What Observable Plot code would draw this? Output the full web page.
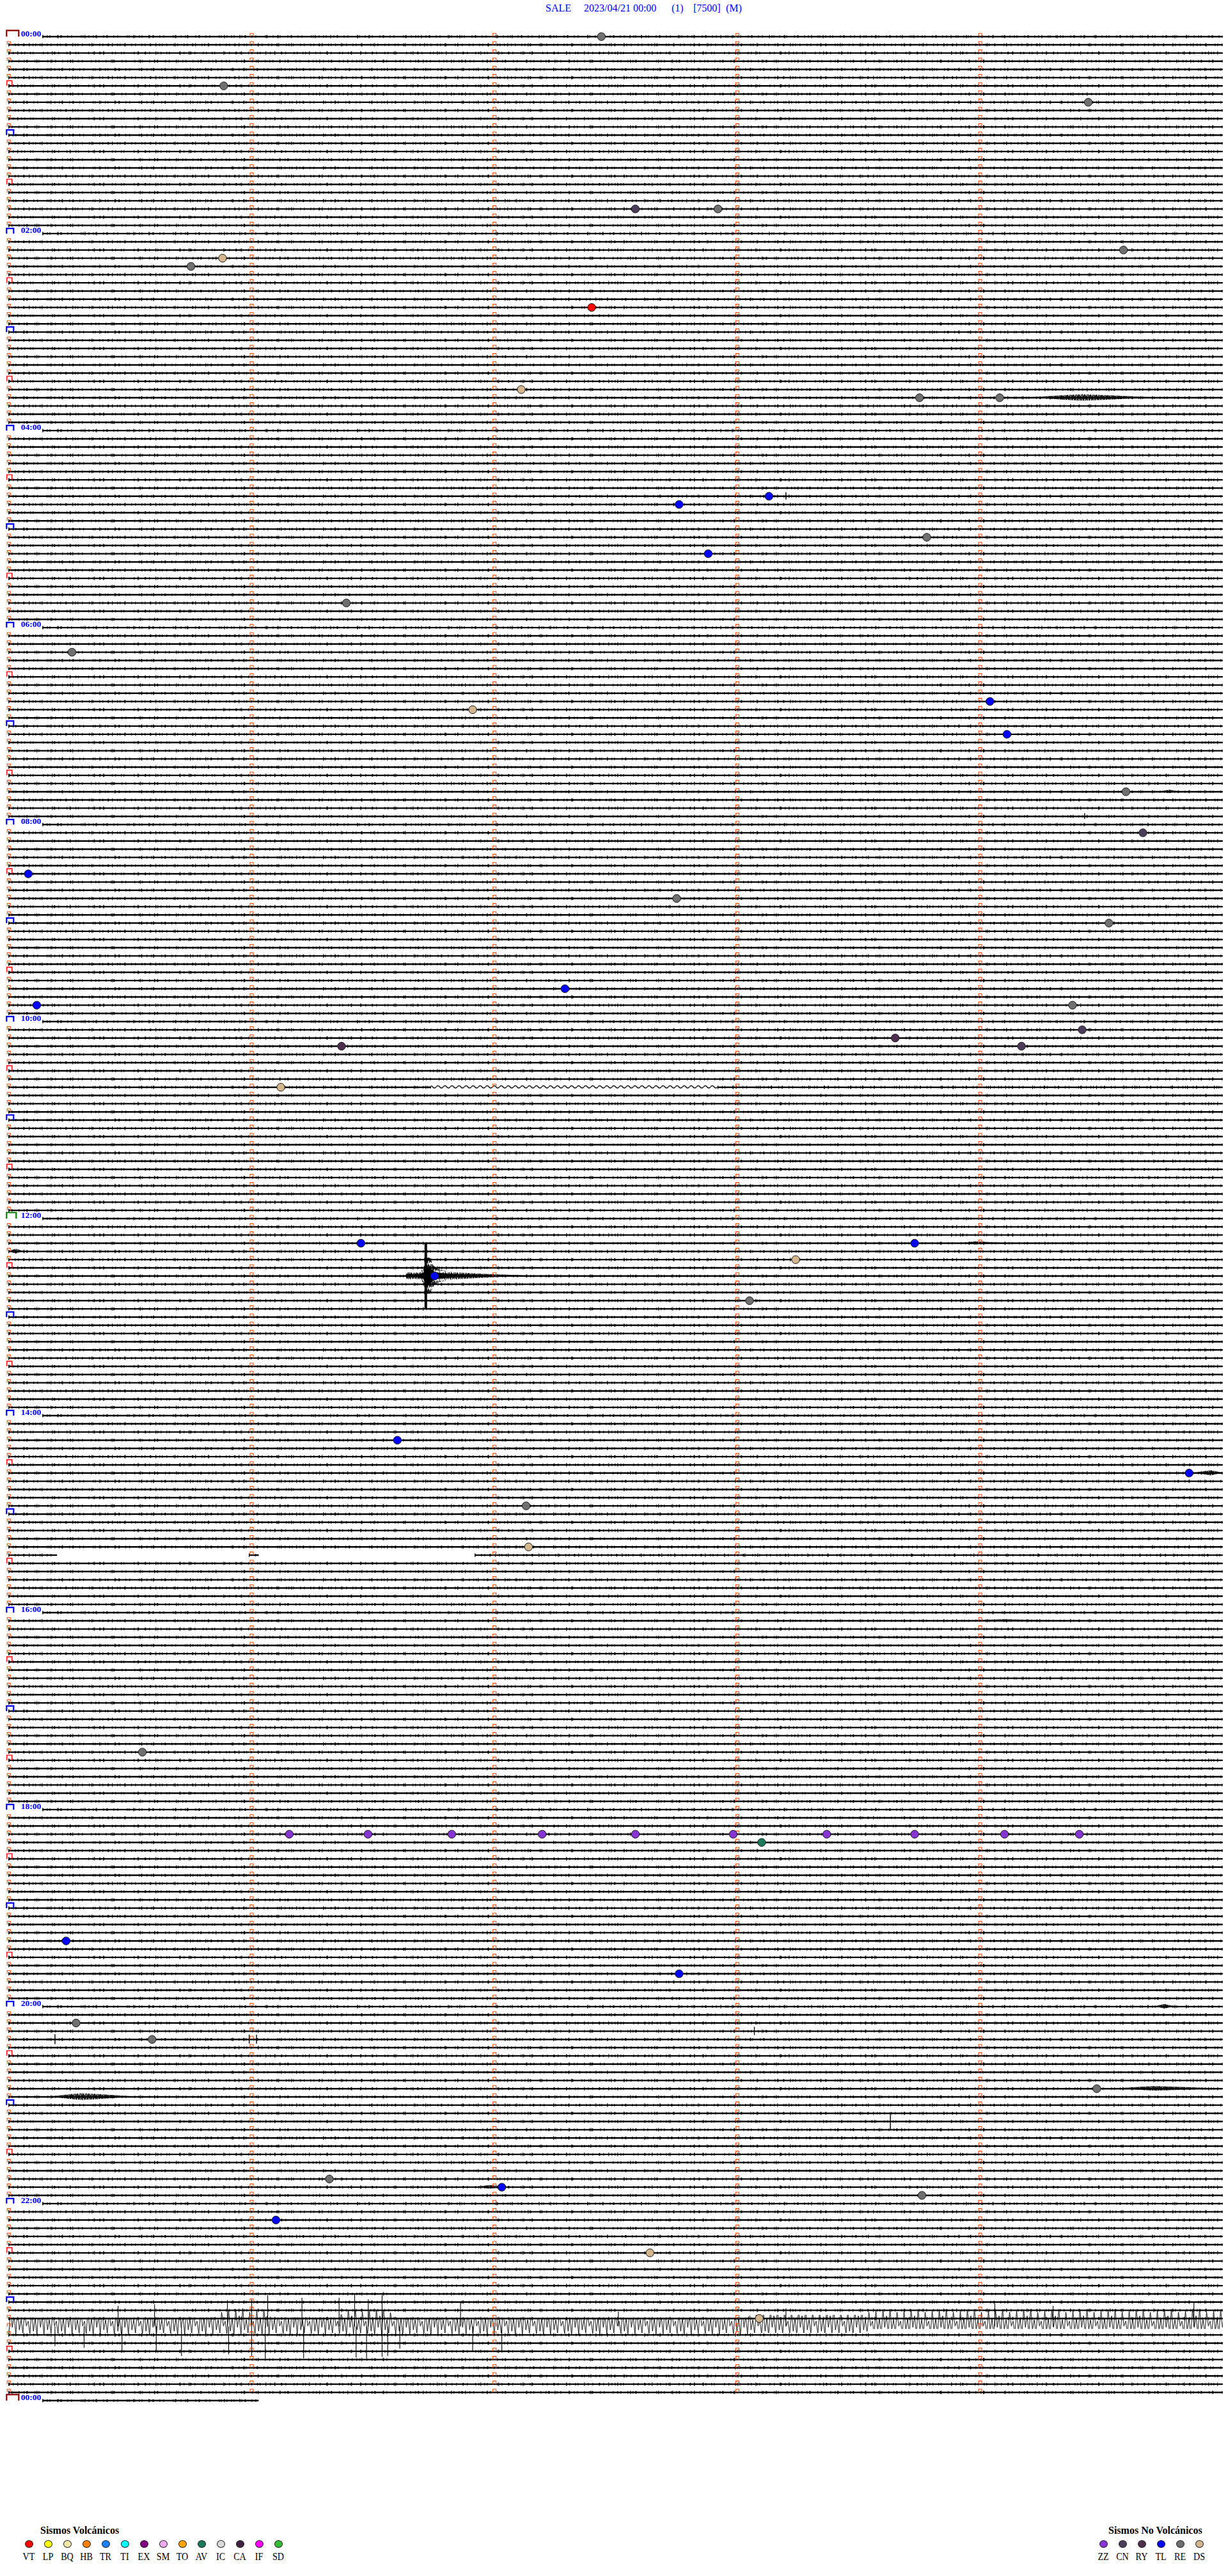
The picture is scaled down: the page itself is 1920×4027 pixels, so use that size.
<!DOCTYPE html>
<html>
<head>
<meta charset="utf-8">
<script src="https://cdn.jsdelivr.net/npm/d3@7"></script>
<script src="https://cdn.jsdelivr.net/npm/@observablehq/plot@0.6"></script>
<style>
  html, body { margin: 0; padding: 0; background: #fff; }
  #page { position: relative; width: 1920px; height: 4027px; overflow: hidden; background: #fff; }
  #page > svg { position: absolute; left: 0; top: 0; }
  .title span { position: absolute; top: 3px; font: 16px "Liberation Serif", "Times New Roman", serif; color: #0000ff; white-space: pre; line-height: 20px; }
  .legend-title { position: absolute; font: bold 16px "Liberation Serif", "Times New Roman", serif; color: #000; line-height: 18px; white-space: nowrap; }
  .legend-dot { position: absolute; width: 13px; height: 12px; border-radius: 50%; border: 1px solid #222; box-sizing: border-box; }
  .legend-label { position: absolute; font: 17px "Liberation Serif", "Times New Roman", serif; color: #000; line-height: 18px; white-space: nowrap; transform: translateX(-50%) scaleX(0.83); }
</style>
</head>
<body>
<div id="page"></div>
<script>
// ---------------- DATA ----------------
const titleParts = ["SALE", "2023/04/21 00:00", "(1)", "[7500]", "(M)"];
const minutesPerLine = 5;
const linesPerHour = 12;
const lineCount = 288;            // 24 h x 12 lines of 5 minutes
const lastLineEnd = 1.03;         // minutes drawn on the closing 00:00 line
const hourLabels = ["00:00","02:00","04:00","06:00","08:00","10:00","12:00","14:00","16:00","18:00","20:00","22:00","00:00"];
const labelGap = 0.14;            // trace starts after the hour label (minutes)

// missing pieces of trace: [line, fromMinute, toMinute]
const gaps = [[128, 1.74, 2.92], [185, 0.20, 0.99], [185, 1.03, 1.92], [279, 0, 5]];

// classified events: [line, minute, type]
const events = [
  [0, 2.44, "RE"], [6, 0.885, "RE"], [8, 4.445, "RE"],
  [21, 2.58, "CN"], [21, 2.92, "RE"], [26, 4.59, "RE"],
  [27, 0.88, "DS"], [28, 0.75, "RE"], [33, 2.40, "VT"],
  [43, 2.11, "DS"], [44, 3.75, "RE"], [44, 4.08, "RE"],
  [56, 3.13, "TL"], [57, 2.76, "TL"], [61, 3.78, "RE"], [63, 2.88, "TL"],
  [69, 1.39, "RE"], [75, 0.26, "RE"], [81, 4.04, "TL"], [82, 1.91, "DS"],
  [85, 4.11, "TL"], [92, 4.60, "RE"], [97, 4.67, "CN"], [102, 0.08, "TL"],
  [105, 2.75, "RE"], [108, 4.53, "RE"], [116, 2.29, "TL"], [118, 0.115, "TL"],
  [118, 4.38, "RE"], [121, 4.42, "CN"], [122, 3.65, "RY"], [123, 1.37, "RY"],
  [123, 4.17, "CN"], [128, 1.12, "DS"], [147, 1.45, "TL"], [147, 3.73, "TL"],
  [149, 3.24, "DS"], [151, 1.753, "TL"], [154, 3.05, "RE"], [171, 1.60, "TL"],
  [175, 4.86, "TL"], [179, 2.13, "RE"], [184, 2.14, "DS"], [209, 0.55, "RE"],
  [219, 1.155, "ZZ"], [219, 1.479, "ZZ"], [219, 1.824, "ZZ"], [219, 2.196, "ZZ"], [219, 2.58, "ZZ"],
  [219, 2.983, "ZZ"], [219, 3.368, "ZZ"], [219, 3.73, "ZZ"], [219, 4.10, "ZZ"], [219, 4.408, "ZZ"],
  [220, 3.10, "AV"], [232, 0.236, "TL"], [236, 2.76, "TL"], [242, 0.277, "RE"],
  [244, 0.59, "RE"], [250, 4.48, "RE"], [261, 1.32, "RE"], [262, 2.03, "TL"],
  [263, 3.76, "RE"], [266, 1.10, "TL"], [270, 2.64, "DS"], [278, 3.09, "DS"]
];

const volcanicTypes  = ["VT","LP","BQ","HB","TR","TI","EX","SM","TO","AV","IC","CA","IF","SD"];
const volcanicColors = ["#ff0000","#ffff00","#f3e6a6","#ff8000","#1e80ff","#00ffff","#800080","#eeaaee","#ffa500","#1b7a5c","#d9d9d9","#3e2440","#ff00ff","#35bb35"];
const nonVolcanicTypes  = ["ZZ","CN","RY","TL","RE","DS"];
const nonVolcanicColors = ["#8634d2","#4c3c5c","#4f2f4f","#0000ff","#6f6f6f","#d3b68e"];

// short bursts: [line, startMin, peakMin, endMin, half-amplitude in lines]
const bursts = [
  [44, 4.20, 4.42, 4.72, 0.42], [147, 3.93, 3.98, 4.10, 0.2], [175, 4.88, 4.95, 5.0, 0.32],
  [251, 0.17, 0.30, 0.52, 0.45], [250, 4.55, 4.72, 5.0, 0.28], [262, 1.92, 1.98, 2.07, 0.22],
  [240, 4.72, 4.76, 4.80, 0.28], [148, 0.0, 0.03, 0.06, 0.3], [193, 3.95, 4.10, 4.30, 0.16],
  [92, 4.74, 4.78, 4.82, 0.22]
];
// isolated spikes: [line, minute, half-height in lines]
const spikes = [[254, 3.63, 1.1], [244, 0.19, 0.6], [244, 0.99, 0.55], [244, 1.02, 0.55], [243, 3.07, 0.5], [56, 3.20, 0.45], [95, 4.43, 0.35]];

// the large earthquake on line 151
const quakeLine = 151;
const quakeEnvelope = [[1.635, 0], [1.640, 0.5], [1.672, 0.35], [1.692, 0.5], [1.708, 0.8], [1.716, 2.2], [1.735, 2.2],
  [1.751, 1.2], [1.771, 0.8], [1.808, 0.55], [1.861, 0.4], [1.927, 0.28], [1.993, 0.18], [2.072, 0.1], [2.15, 0]];
const quakeSpike = {minute: 1.717, top: 147, bottom: 155};

// tremor episode around 23:10-23:20: [minute, topLine, bottomLine]
const tremorEnvelope = [[0.00, 278.0, 280.1], [0.85, 277.9, 280.2], [0.88, 276.6, 281.8], [1.05, 276.6, 281.8],
  [1.08, 277.9, 280.2], [1.35, 277.9, 280.2], [1.40, 277.0, 281.5], [1.56, 277.0, 281.5], [1.60, 278.0, 280.1],
  [3.03, 278.0, 280.1], [3.06, 277.6, 279.8], [3.52, 277.6, 279.8], [3.56, 276.9, 279.3], [5.00, 276.9, 279.3]];
const tremorCenter = 279;
const tremorSpikes = [[0.45, 276.5], [0.60, 276.3], [0.90, 275.8], [1.00, 275.7], [1.066, 275.2], [1.207, 275.5],
  [1.36, 275.5], [1.424, 275.1], [1.48, 275.7], [1.537, 275.2], [1.86, 276.0], [2.51, 277.2], [4.06, 276.2],
  [4.88, 276.1], [3.2, 276.8], [4.3, 276.5],
  [0.19, 281.4], [0.31, 281.6], [0.466, 282.2], [0.607, 282.1], [0.711, 282.6], [0.905, 282.4], [1.0, 282.6],
  [1.056, 282.9], [1.214, 282.9], [1.43, 282.8], [1.473, 282.9], [1.537, 282.7], [1.56, 282.6], [1.61, 281.7],
  [1.91, 282.1], [2.03, 282.0]];

// slow oscillation on line 128: [line, fromMinute, toMinute, half-width in lines]
const waveSegment = [128, 1.74, 2.92, 0.3];

// ---------------- LAYOUT / STYLE ----------------
const yRange = [56.7, 3752.3];
const xRange = [13.3, 1911.8];
const yPx = v => yRange[0] + v * (yRange[1] - yRange[0]) / lineCount;
const step = (yRange[1] - yRange[0]) / lineCount;

// ---------------- DERIVED TABLES ----------------
const segments = [];
for (let i = 0; i <= lineCount; i++) {
  let start = (i % (2 * linesPerHour) === 0) ? labelGap : 0;
  let end = i === lineCount ? lastLineEnd : minutesPerLine;
  const g = gaps.filter(d => d[0] === i).sort((a, b) => a[1] - b[1]);
  let cur = start;
  for (const [, a, b] of g) {
    if (a > cur) segments.push({line: i, x1: cur, x2: a});
    cur = Math.max(cur, b);
  }
  if (end > cur) segments.push({line: i, x1: cur, x2: end});
}
const tickGroups = [0, 1, 2, 3].map(k => segments.filter(s => s.line % 4 === k));

const minuteMarks = [];
const halfHourMarks = [];
const hourMarks = [];
for (let i = 0; i < lineCount; i++) {
  for (let m = 1; m < minutesPerLine; m++) minuteMarks.push({line: i, minute: m});
  if (i % 6 !== 0) minuteMarks.push({line: i, minute: 0});
  else if (i % linesPerHour === 6) halfHourMarks.push({line: i});
  else if (i !== 0 && i !== lineCount / 2) hourMarks.push({line: i});
}
const dayMarks = [{line: 0}, {line: lineCount}];
const noonMarks = [{line: lineCount / 2}];
const labels = hourLabels.map((label, k) => ({label, line: k * 2 * linesPerHour}));

const eventRows = events.map(([line, minute, type]) => ({line, minute, type}));
const burstRows = bursts.flatMap(([line, m0, mp, m1, a], id) =>
  [[m0, 0], [mp, a], [m1, 0]].map(([minute, amp]) => ({id, line, minute, amp})));
const spikeRows = spikes.map(([line, minute, h]) => ({line, minute, h}));
const quakeRows = quakeEnvelope.map(([minute, amp]) => ({minute, amp}));
const tremorRows = tremorEnvelope.map(([minute, top, bottom]) => ({minute, top, bottom}));
const tremorSpikeRows = tremorSpikes.map(([minute, tip]) => ({minute, tip}));
const waveRows = [waveSegment[1], waveSegment[2]].map(minute => ({minute}));

const bracket = (w, h) => ({draw(ctx) { ctx.moveTo(-w / 2, 0); ctx.lineTo(-w / 2, -h); ctx.lineTo(w / 2, -h); ctx.lineTo(w / 2, 0); }});
const dashes = ["1,6,1,3,1,11,1,4,2,9,1,5,1,14,1,2,1,8", "1,9,1,4,1,7,2,13,1,3,1,6,1,10,1,5",
                "2,5,1,12,1,4,1,8,1,3,1,15,1,6,1,9", "1,4,1,10,1,7,1,3,2,11,1,5,1,13,1,6"];
const sparse = ["1,23,1,41,1,17,1,57", "1,31,1,19,1,47,1,29", "1,13,1,53,1,27,1,37", "1,43,1,21,1,33,1,61"];

// ---------------- CHART ----------------
const chart = Plot.plot({
  width: 1920,
  height: 3790,
  margin: 0,
  x: {domain: [0, minutesPerLine], range: xRange, axis: null},
  y: {domain: [0, lineCount], range: yRange, axis: null},
  color: {domain: [...volcanicTypes, ...nonVolcanicTypes], range: [...volcanicColors, ...nonVolcanicColors]},
  marks: [
    Plot.areaY(tremorRows, {x: "minute", y1: "top", y2: "bottom", fill: "url(#zig)", curve: "linear"}),
    Plot.areaY(waveRows, {x: "minute", y1: () => waveSegment[0] - waveSegment[3], y2: () => waveSegment[0] + waveSegment[3], fill: "url(#wave)"}),
    Plot.ruleY(segments, {y: "line", x1: "x1", x2: "x2", stroke: "#000", strokeWidth: 2.4}),
    ...tickGroups.map((g, k) => Plot.ruleY(g, {y: "line", x1: "x1", x2: "x2", stroke: "#000", strokeWidth: 4.2, strokeDasharray: dashes[k]})),
    ...tickGroups.map((g, k) => Plot.ruleY(g, {y: "line", x1: "x1", x2: "x2", stroke: "#000", strokeWidth: 5.6, strokeDasharray: sparse[k]})),
    Plot.areaY(quakeRows, {x: "minute", y1: d => quakeLine - d.amp, y2: d => quakeLine + d.amp, fill: "url(#spiky)"}),
    Plot.areaY(quakeRows, {x: "minute", y1: d => quakeLine - d.amp * 0.45, y2: d => quakeLine + d.amp * 0.45, fill: "#000"}),
    Plot.ruleX([quakeSpike], {x: "minute", y1: "top", y2: "bottom", stroke: "#000", strokeWidth: 4}),
    Plot.areaY(burstRows, {x: "minute", y1: d => d.line - d.amp, y2: d => d.line + d.amp, z: "id", fill: "url(#spiky)"}),
    Plot.ruleX(spikeRows, {x: "minute", y1: d => d.line - d.h, y2: d => d.line + d.h, stroke: "#000", strokeWidth: 1.4}),
    Plot.ruleX(tremorSpikeRows, {x: "minute", y1: () => tremorCenter, y2: "tip", stroke: "#000", strokeWidth: 1.1}),
    Plot.dot(minuteMarks, {x: "minute", y: "line", symbol: bracket(5, 5), r: 3, fill: "none", stroke: "#ff4a00", strokeWidth: 1.1}),
    Plot.dot(halfHourMarks, {x: 0, y: "line", dx: 1, symbol: bracket(8, 8), r: 4, fill: "none", stroke: "#ff0000", strokeWidth: 1.4}),
    Plot.dot(hourMarks, {x: 0, y: "line", dx: 2, symbol: bracket(11, 8), r: 4, fill: "none", stroke: "#0000ff", strokeWidth: 2.2}),
    Plot.dot(dayMarks, {x: 0, y: "line", dx: 6, symbol: bracket(19, 9.5), r: 5, fill: "none", stroke: "#8b0000", strokeWidth: 2.2}),
    Plot.dot(noonMarks, {x: 0, y: "line", dx: 4, symbol: bracket(15, 9.5), r: 5, fill: "none", stroke: "#008000", strokeWidth: 2.2}),
    Plot.text(labels, {x: 0, y: "line", text: "label", dx: 19, dy: -5, textAnchor: "start", lineAnchor: "middle",
      fill: "#0000ff", fontSize: 13.5, fontWeight: "bold", fontFamily: "Liberation Serif, Times New Roman, serif"}),
    Plot.dot(eventRows, {x: "minute", y: "line", fill: "type", r: 6.2, stroke: "#1a1a1a", strokeWidth: 1})
  ]
});

const wy = yPx(waveSegment[0]);
d3.select(chart).insert("defs", ":first-child").html(`
  <pattern id="zig" patternUnits="userSpaceOnUse" x="0" y="${yPx(276)}" width="44" height="200">
    <path d="M0,30 L2.75,50 L5.5,14 L8.25,46 L11,26 L13.75,52 L16.5,12 L19.25,40 L22,22 L24.75,51 L27.5,10 L30.25,44 L33,28 L35.75,49 L38.5,16 L41.25,38 L44,30"
      fill="none" stroke="#000" stroke-width="0.9"/>
  </pattern>
  <pattern id="spiky" patternUnits="userSpaceOnUse" x="0" y="${yPx(0) - step / 2}" width="9" height="${step}">
    <path d="M0,6.4 L0.7,1 L1.4,11 L2.1,3 L2.8,12.5 L3.5,0.5 L4.2,9 L4.9,2 L5.6,12 L6.3,4 L7,10.5 L7.7,1.5 L8.4,11.5 L9,6.4"
      fill="none" stroke="#000" stroke-width="0.9"/>
  </pattern>
  <pattern id="wave" patternUnits="userSpaceOnUse" x="0" y="${wy - 5}" width="11" height="10">
    <path d="M0,5 Q2.75,1.5 5.5,5 T11,5" fill="none" stroke="#000" stroke-width="1.4"/>
  </pattern>`);

const page = document.getElementById("page");
page.appendChild(chart);

// ---------------- TITLE ----------------
const titleLefts = [853, 913, 1050, 1084, 1135];
const title = document.createElement("div");
title.className = "title";
titleParts.forEach((t, i) => {
  const s = document.createElement("span");
  s.textContent = t;
  s.style.left = titleLefts[i] + "px";
  title.appendChild(s);
});
page.appendChild(title);

// ---------------- LEGENDS ----------------
function legend(heading, types, colors, headingLeft, firstCenter) {
  const h = document.createElement("div");
  h.className = "legend-title";
  h.textContent = heading;
  h.style.left = headingLeft + "px";
  h.style.top = "3947px";
  page.appendChild(h);
  types.forEach((t, i) => {
    const cx = firstCenter + 30 * i;
    const dot = document.createElement("div");
    dot.className = "legend-dot";
    dot.style.background = colors[i];
    dot.style.left = (cx - 6.5) + "px";
    dot.style.top = "3971px";
    page.appendChild(dot);
    const lab = document.createElement("div");
    lab.className = "legend-label";
    lab.textContent = t;
    lab.style.left = cx + "px";
    lab.style.top = "3988px";
    page.appendChild(lab);
  });
}
legend("Sismos Volcánicos", volcanicTypes, volcanicColors, 63, 45.3);
legend("Sismos No Volcánicos", nonVolcanicTypes, nonVolcanicColors, 1733, 1725);
</script>
</body>
</html>
